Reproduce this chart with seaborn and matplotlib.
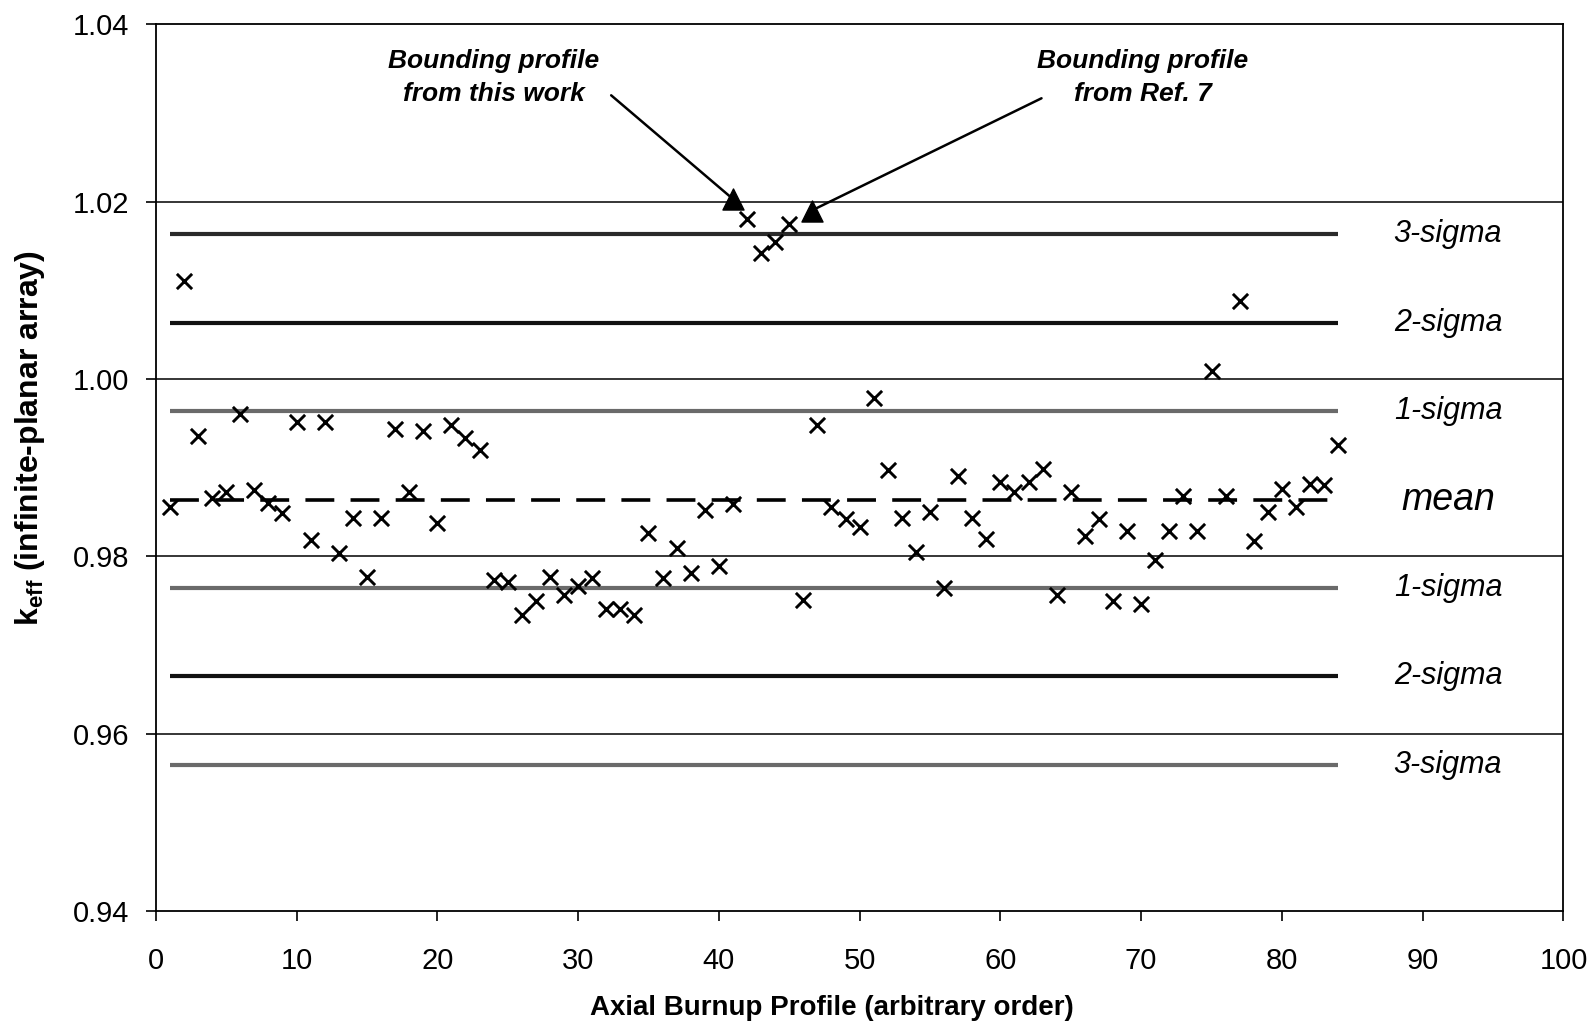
"""
k_eff of axial burnup profiles (infinite-planar array) with mean and sigma bands.
Writes out.png.
"""

import numpy as np
import pandas as pd
import matplotlib

matplotlib.use("Agg")
import matplotlib.pyplot as plt
import seaborn as sns

# profile index and k_eff
profile_ids = list(range(1, 85))
keff_values = [
    0.9856, 1.0110, 0.9936, 0.9866, 0.9873, 0.9960, 0.9875, 0.9860, 0.9849, 0.9952,
    0.9818, 0.9951, 0.9804, 0.9843, 0.9777, 0.9843, 0.9943, 0.9873, 0.9941, 0.9837,
    0.9948, 0.9933, 0.9920, 0.9773, 0.9771, 0.9734, 0.9750, 0.9777, 0.9756, 0.9766,
    0.9775, 0.9741, 0.9741, 0.9734, 0.9826, 0.9775, 0.9809, 0.9781, 0.9852, 0.9789,
    0.9859, 1.0180, 1.0142, 1.0154, 1.0175, 0.9751, 0.9948, 0.9856, 0.9842, 0.9833,
    0.9979, 0.9897, 0.9843, 0.9805, 0.9850, 0.9764, 0.9891, 0.9843, 0.9819, 0.9884,
    0.9873, 0.9884, 0.9898, 0.9756, 0.9873, 0.9823, 0.9842, 0.9749, 0.9828, 0.9746,
    0.9796, 0.9828, 0.9868, 0.9828, 1.0009, 0.9868, 1.0088, 0.9817, 0.9850, 0.9876,
    0.9856, 0.9881, 0.9880, 0.9925,
]

# bounding profiles (triangles) and their captions
bound_x = [41.0, 46.6]
bound_y = [1.0203, 1.0190]
bound_labels = ["Bounding profile\nfrom this work", "Bounding profile\nfrom Ref. 7"]
bound_text_x = [24.0, 70.1]
bound_text_y = [1.0340, 1.0340]
bound_tail_x = [32.2, 63.1]
bound_tail_y = [1.0322, 1.0318]

# statistics bands
keff_mean = 0.9864
keff_sigma = 0.00998
band_k = [3, 2, 1, -1, -2, -3]
band_labels = ["3-sigma", "2-sigma", "1-sigma", "1-sigma", "2-sigma", "3-sigma"]
band_colors = ["#2a2a2a", "#111111", "#6a6a6a", "#6a6a6a", "#111111", "#6a6a6a"]
line_span = [1, 84]

FONT = "Liberation Sans"


def main() -> None:
    sns.set_theme(style="white")
    plt.rcParams["font.family"] = [FONT, "DejaVu Sans"]
    plt.rcParams["mathtext.fontset"] = "custom"
    plt.rcParams["mathtext.rm"] = FONT
    plt.rcParams["mathtext.bf"] = f"{FONT}:bold"
    for key in ["text.color", "axes.labelcolor", "xtick.color", "ytick.color"]:
        plt.rcParams[key] = "black"

    df = pd.DataFrame({"profile": profile_ids, "keff": keff_values})

    fig = plt.figure(figsize=(15.96, 10.32), dpi=100)
    ax = fig.add_axes([0.0976, 0.1174, 0.8820, 0.8590])

    # grid lines at the major y ticks
    for yv in [0.96, 0.98, 1.00, 1.02]:
        ax.axhline(yv, color="black", lw=1.1, zorder=1)

    # sigma bands
    for k, lab, col in zip(band_k, band_labels, band_colors):
        yv = keff_mean + k * keff_sigma
        ax.hlines(yv, line_span[0], line_span[1], color=col, lw=3.0, zorder=2)
        ax.text(91.8, yv, lab, ha="center", va="center", fontsize=22,
                style="italic")
    ax.hlines(keff_mean, line_span[0], line_span[1], color="black", lw=2.6,
              linestyles=(0, (8, 4.5)), zorder=2)
    ax.text(91.8, keff_mean, "mean", ha="center", va="center", fontsize=27,
            style="italic")

    sns.scatterplot(data=df, x="profile", y="keff", marker="x", s=120,
                    color="black", linewidth=2.1, ax=ax, zorder=4, legend=False)

    ax.scatter(bound_x, bound_y, marker="^", s=230, color="black", zorder=5)
    for lab, tx, ty, sx, sy, px, py in zip(bound_labels, bound_text_x, bound_text_y,
                                            bound_tail_x, bound_tail_y,
                                            bound_x, bound_y):
        ax.text(tx, ty, lab, ha="center", va="center", fontsize=19,
                fontweight="bold", style="italic", linespacing=1.45)
        ax.annotate("", xy=(px, py), xytext=(sx, sy),
                    arrowprops=dict(arrowstyle="-", color="black", lw=1.8))

    ax.set_xlim(0, 100)
    ax.set_ylim(0.94, 1.04)
    ax.set_xticks(np.arange(0, 101, 10))
    ax.set_yticks(np.arange(0.94, 1.0401, 0.02))
    ax.set_yticklabels([f"{v:.2f}" for v in np.arange(0.94, 1.0401, 0.02)])
    ax.tick_params(axis="both", labelsize=21, direction="out", length=7,
                   width=1.2, left=True, bottom=True)
    ax.tick_params(axis="x", pad=19)
    ax.tick_params(axis="y", pad=12)
    for sp in ax.spines.values():
        sp.set_color("black")
        sp.set_linewidth(1.3)

    ax.set_xlabel("Axial Burnup Profile (arbitrary order)", fontsize=20,
                  fontweight="bold")
    ax.xaxis.set_label_coords(0.480, -0.0953)
    ax.set_ylabel(r"k$_{\mathbf{eff}}$ (infinite-planar array)", fontsize=23,
                  fontweight="bold")
    ax.yaxis.set_label_coords(-0.0774, 0.533)
    ax.set_facecolor("white")
    fig.patch.set_facecolor("white")

    fig.savefig("out.png", dpi=100)
    plt.close(fig)


if __name__ == "__main__":
    main()
